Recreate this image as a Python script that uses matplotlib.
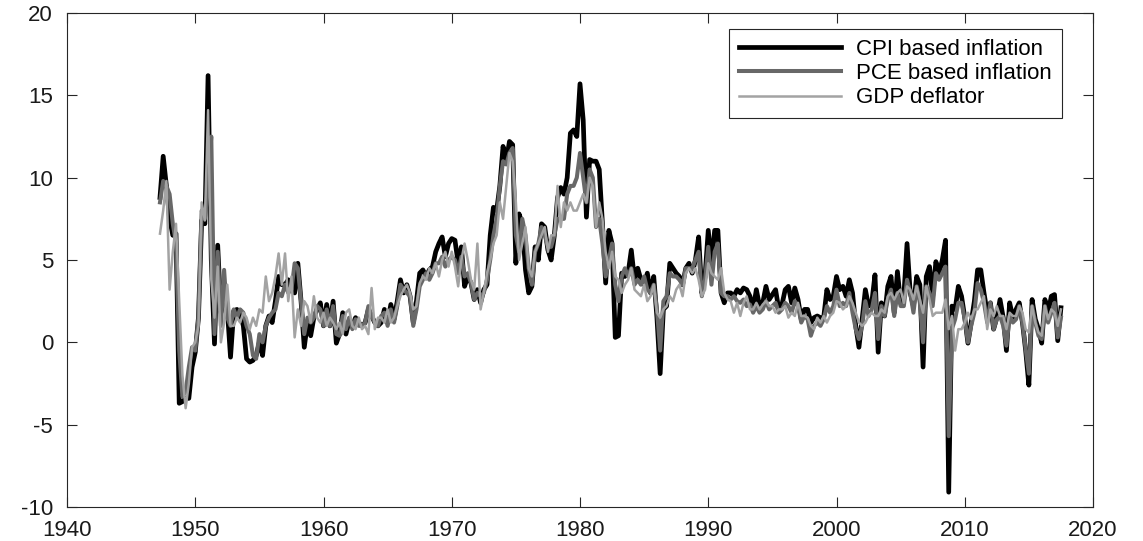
import numpy as np
import matplotlib
matplotlib.use("Agg")
import matplotlib.pyplot as plt

# Quarterly data, 1947Q2 .. 2017Q3 (annualized inflation rates, %)
start_year = 1947.25
cpi = [
    8.8, 11.3, 9.5,                       # 1947
    7.5, 6.5, 6.6, -3.7,                  # 1948
    -3.6, -3.4, -3.4, -1.5,               # 1949
    -0.6, 1.5, 7.4, 7.2,                  # 1950
    16.2, 5.0, -0.1, 5.9,                 # 1951
    1.8, 2.6, 2.0, -0.9,                  # 1952
    1.9, 2.0, 1.8, 1.0,                   # 1953
    -1.0, -1.2, -1.1, -0.8,               # 1954
    0.0, -0.8, 1.0, 1.6,                  # 1955
    1.2, 2.5, 4.0, 3.5,                   # 1956
    3.5, 3.8, 3.2, 3.0,                   # 1957
    4.8, 2.5, -0.3, 1.2,                  # 1958
    0.4, 1.5, 2.0, 2.4,                   # 1959
    1.0, 2.3, 1.0, 2.5,                   # 1960
    -0.05, 0.5, 1.8, 0.5,                 # 1961
    1.3, 1.0, 1.5, 1.2,                   # 1962
    1.0, 1.2, 2.0, 1.6,                   # 1963
    1.2, 1.0, 1.2, 2.0,                   # 1964
    1.2, 2.3, 1.4, 2.5,                   # 1965
    3.8, 3.0, 3.5, 2.8,                   # 1966
    1.2, 2.5, 4.2, 4.4,                   # 1967
    4.0, 4.4, 4.6, 5.5,                   # 1968
    6.0, 6.4, 5.2, 6.0,                   # 1969
    6.3, 6.2, 4.8, 5.8,                   # 1970
    3.4, 4.0, 3.6, 2.6,                   # 1971
    3.2, 2.4, 3.2, 3.5,                   # 1972
    6.5, 8.2, 8.0, 9.5,                   # 1973
    11.9, 11.0, 12.2, 12.0,               # 1974
    4.8, 7.8, 7.2, 4.4,                   # 1975
    3.0, 3.4, 5.8, 5.0,                   # 1976
    7.2, 7.0, 5.6, 5.0,                   # 1977
    6.5, 8.8, 9.4, 9.0,                   # 1978
    10.0, 12.7, 12.9, 12.5,               # 1979
    15.7, 13.5, 7.6, 11.1,                # 1980
    11.0, 11.0, 10.5, 7.2,                # 1981
    3.6, 6.8, 6.0, 0.3,                   # 1982
    0.4, 4.2, 4.0, 4.2,                   # 1983
    5.6, 3.8, 4.5, 3.8,                   # 1984
    3.5, 4.2, 3.0, 4.0,                   # 1985
    1.5, -1.9, 2.0, 2.2,                  # 1986
    4.8, 4.5, 4.2, 4.0,                   # 1987
    3.5, 4.5, 4.8, 4.2,                   # 1988
    5.0, 6.4, 3.0, 4.0,                   # 1989
    6.8, 4.8, 6.8, 6.8,                   # 1990
    3.0, 2.4, 3.0, 3.0,                   # 1991
    2.8, 3.2, 3.0, 3.3,                   # 1992
    3.2, 2.8, 2.0, 3.2,                   # 1993
    2.2, 2.4, 3.4, 2.6,                   # 1994
    2.9, 3.2, 2.0, 2.3,                   # 1995
    3.2, 3.4, 2.4, 3.3,                   # 1996
    2.6, 1.4, 2.0, 2.0,                   # 1997
    1.2, 1.5, 1.6, 1.5,                   # 1998
    1.5, 3.2, 2.6, 2.8,                   # 1999
    4.0, 3.2, 3.4, 2.8,                   # 2000
    3.8, 3.0, 1.0, -0.3,                  # 2001
    1.4, 3.2, 2.2, 2.4,                   # 2002
    4.1, -0.6, 2.4, 1.6,                  # 2003
    3.4, 4.0, 1.8, 4.3,                   # 2004
    2.4, 2.8, 6.0, 3.0,                   # 2005
    2.2, 4.0, 3.5, -1.5,                  # 2006
    4.0, 4.6, 2.8, 4.9,                   # 2007
    4.2, 5.0, 6.2, -9.1,                  # 2008
    2.2, 2.0, 3.4, 2.8,                   # 2009
    1.5, -0.05, 1.2, 2.5,                 # 2010
    4.4, 4.4, 3.0, 1.8,                   # 2011
    2.4, 0.8, 1.5, 2.6,                   # 2012
    1.5, -0.5, 2.4, 1.5,                  # 2013
    2.0, 2.4, 1.2, -0.5,                  # 2014
    -2.6, 2.6, 1.4, 0.8,                  # 2015
    -0.05, 2.6, 1.8, 2.8,                 # 2016
    2.9, 0.1, 2.1,                        # 2017
]
pce = [
    8.5, 9.8, 9.5,
    9.0, 7.2, 6.0, -0.5,
    -3.3, -3.0, -1.5, -0.3,
    -0.5, 1.5, 8.0, 7.5,
    9.5, 12.5, 0.5, 5.5,
    1.0, 4.4, 1.5, 1.0,
    2.0, 1.5, 2.0, 1.8,
    1.0, 0.5, -0.8, -1.0,
    0.5, 0.0, 1.0, 1.5,
    1.8, 2.0, 3.0, 2.8,
    3.5, 3.0, 3.2, 4.8,
    4.5, 2.5, 0.5, 1.5,
    1.2, 1.5, 2.2, 2.0,
    1.0, 2.0, 1.0, 2.2,
    0.5, 0.4, 1.6, 0.8,
    1.5, 0.8, 1.4, 1.0,
    1.0, 1.2, 2.2, 1.6,
    1.2, 1.0, 1.6, 1.8,
    1.0, 2.0, 1.2, 2.2,
    3.5, 3.2, 3.0, 2.8,
    1.0, 2.0, 3.4, 3.8,
    4.2, 3.8, 4.2, 4.8,
    4.8, 5.2, 4.6, 5.0,
    5.2, 5.0, 4.2, 5.2,
    4.0, 4.2, 3.6, 2.6,
    3.0, 2.8, 3.0, 3.8,
    5.0, 6.5, 7.5, 9.5,
    11.0, 10.8, 11.5, 11.8,
    6.5, 5.5, 7.5, 6.5,
    4.5, 3.5, 5.5, 6.0,
    7.0, 6.5, 5.8, 5.8,
    6.5, 7.5, 7.5, 7.5,
    9.0, 9.5, 9.5, 10.0,
    11.5, 10.0, 8.5, 10.5,
    10.0, 7.0, 7.5, 6.0,
    4.0, 5.0, 6.0, 3.5,
    2.5, 4.0, 4.5, 4.0,
    4.5, 3.5, 3.8, 3.5,
    4.0, 3.2, 3.0, 3.5,
    2.0, -0.5, 2.5, 2.8,
    4.2, 4.0, 4.0, 3.8,
    3.5, 4.5, 4.5, 4.5,
    5.0, 5.5, 2.8, 3.8,
    5.8, 3.5, 5.5, 6.0,
    3.0, 2.8, 2.8, 2.6,
    2.8, 2.5, 2.4, 2.6,
    2.2, 2.3, 1.8, 2.2,
    1.8, 2.0, 2.5, 2.0,
    2.2, 2.4, 1.8, 2.0,
    2.4, 2.2, 1.8, 2.5,
    2.2, 1.2, 1.6, 1.4,
    0.4, 1.0, 1.2, 1.0,
    1.4, 2.2, 1.8, 2.2,
    3.2, 2.2, 2.4, 2.2,
    3.0, 1.8, 0.8, 0.2,
    1.0, 2.5, 1.6, 2.0,
    3.0, 0.2, 2.2, 1.6,
    2.6, 3.2, 1.6, 3.0,
    2.2, 2.2, 3.8, 3.0,
    1.8, 3.4, 2.4, 0.0,
    3.4, 3.0, 2.2, 4.2,
    3.8, 4.2, 4.6, -5.7,
    0.8, 1.4, 2.4, 2.4,
    1.4, 0.0, 1.0, 1.8,
    3.6, 3.2, 2.4, 1.2,
    2.4, 0.8, 1.4, 1.6,
    1.0, -0.2, 1.6, 1.2,
    1.4, 2.2, 1.2, -0.4,
    -1.9, 2.2, 1.2, 0.4,
    0.2, 2.2, 1.2, 1.8,
    2.4, 0.3, 1.5,
]
gdp = [
    6.6, 8.0, 9.8,
    3.2, 5.5, 7.2, 2.5,
    -2.0, -4.0, -2.5, -0.3,
    0.0, 1.0, 8.5, 7.4,
    14.1, 3.8, 1.5, 4.6,
    0.0, 1.2, 3.5, 1.0,
    1.0, 1.5, 1.2, 1.8,
    1.5, 0.8, 1.5, 1.0,
    2.0, 1.8, 4.0, 2.5,
    3.0, 4.0, 5.4, 3.5,
    5.4, 2.5, 4.0, 0.3,
    2.0, 1.0, 2.5, 2.2,
    1.2, 2.8, 1.5, 1.2,
    1.8, 1.0, 1.5, 1.2,
    0.8, 1.2, 0.5, 1.8,
    2.0, 1.0, 0.8, 1.5,
    0.8, 1.0, 0.5, 3.3,
    0.8, 1.5, 1.5, 1.2,
    2.0, 1.2, 1.5, 2.2,
    2.8, 3.2, 3.5, 3.0,
    2.0, 2.2, 3.6, 4.0,
    3.8, 4.5, 4.2, 4.8,
    4.0, 5.0, 5.5, 4.6,
    5.5, 4.6, 3.4, 5.0,
    6.0, 5.0, 3.8, 3.2,
    6.0, 2.0, 3.0, 4.2,
    5.0, 6.0, 6.5, 8.5,
    7.5, 9.5, 11.5, 11.0,
    8.5, 5.0, 6.0, 7.0,
    4.5, 4.0, 5.5, 6.0,
    6.5, 7.0, 5.5, 6.5,
    6.5, 9.5, 7.0, 8.5,
    8.0, 8.5, 8.0, 8.0,
    8.5, 9.0, 8.5, 10.0,
    9.5, 7.0, 8.5, 7.5,
    5.5, 4.5, 5.5, 4.0,
    3.8, 3.0, 3.5, 3.8,
    4.5, 3.2, 3.0, 2.8,
    3.5, 2.5, 2.8, 3.5,
    1.8, 1.5, 2.0, 2.2,
    2.8, 2.5, 3.2, 3.5,
    2.8, 4.2, 4.5, 4.2,
    4.5, 3.8, 2.8, 3.2,
    4.8, 4.2, 4.0, 3.8,
    4.5, 3.0, 2.6, 2.5,
    1.8, 2.4, 1.6, 2.4,
    2.8, 2.0, 2.0, 2.4,
    2.0, 2.3, 2.5, 2.2,
    2.2, 1.8, 2.0, 2.0,
    2.2, 1.5, 1.8, 1.6,
    2.4, 1.6, 1.6, 1.5,
    1.0, 0.8, 1.5, 1.2,
    1.6, 1.2, 1.6, 1.8,
    2.5, 2.4, 2.0, 2.2,
    2.8, 2.4, 1.8, 1.2,
    1.0, 1.2, 1.6, 1.8,
    1.6, 1.6, 2.0, 1.8,
    2.8, 3.0, 2.6, 3.0,
    3.2, 2.4, 3.4, 3.2,
    2.6, 3.4, 2.6, 1.8,
    3.4, 2.6, 1.6, 1.8,
    1.8, 1.8, 2.6, 0.8,
    1.6, -0.5, 0.8, 0.8,
    1.2, 1.8, 1.4, 2.0,
    2.0, 2.4, 2.8, 0.8,
    2.0, 1.6, 2.2, 1.6,
    1.6, 0.8, 1.8, 1.6,
    1.6, 2.2, 1.8, 0.8,
    0.6, 2.2, 1.2, 0.6,
    0.4, 2.2, 1.4, 2.0,
    1.8, 1.0, 2.0,
]
labels = ["CPI based inflation", "PCE based inflation", "GDP deflator"]
xticks = [1940, 1950, 1960, 1970, 1980, 1990, 2000, 2010, 2020]
yticks = [-10, -5, 0, 5, 10, 15, 20]

n = len(cpi)
dates = start_year + 0.25 * np.arange(n)

plt.rcParams['font.family'] = ['Liberation Sans', 'DejaVu Sans']
plt.rcParams['axes.unicode_minus'] = False

fig = plt.figure(figsize=(11.43, 5.41), dpi=100)
ax = fig.add_axes([67/1143, 1 - 507/541, (1093-67)/1143, (507-13)/541])

ax.plot(dates, cpi, color='black', lw=3.4, label=labels[0])
ax.plot(dates[:len(pce)], pce, color='#686868', lw=2.9, label=labels[1])
ax.plot(dates[:len(gdp)], gdp, color='#a3a3a3', lw=1.8, label=labels[2])

ax.set_xlim(1940, 2020)
ax.set_ylim(-10, 20)
ax.set_xticks(xticks)
ax.set_yticks(yticks)
ax.tick_params(direction='in', length=7, width=0.8, top=True, right=True,
               labelsize=16, colors='#262626', labelcolor='#1a1a1a')
ax.tick_params(axis='y', pad=10)
ax.tick_params(axis='x', pad=9)
for s in ax.spines.values():
    s.set_color('#262626')
    s.set_linewidth(0.8)

leg = ax.legend(loc='upper right', bbox_to_anchor=(0.970, 0.968), fontsize=16,
                frameon=True, fancybox=False, framealpha=1, edgecolor='#262626',
                handlelength=4.6, handletextpad=0.7, labelspacing=0.15,
                borderpad=0.45, borderaxespad=0)
leg.get_frame().set_linewidth(0.8)

fig.savefig('out.png', dpi=100)
